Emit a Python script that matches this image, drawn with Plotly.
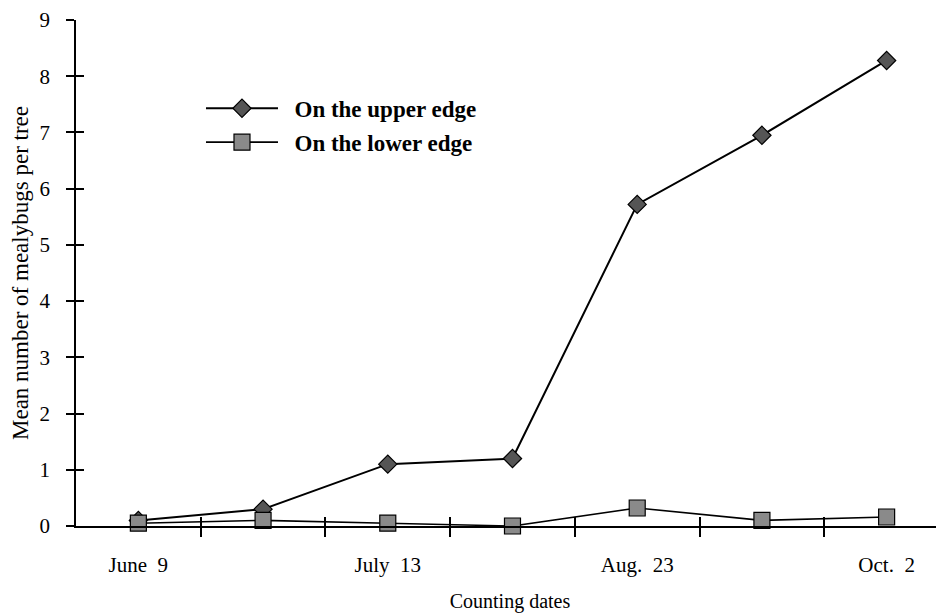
import plotly.graph_objects as go

dates_idx = [0, 1, 2, 3, 4, 5, 6]
tick_labels = ["June  9", "", "July  13", "", "Aug.  23", "", "Oct.  2"]
upper_edge = [0.10, 0.30, 1.10, 1.20, 5.72, 6.95, 8.28]
lower_edge = [0.05, 0.10, 0.05, 0.00, 0.32, 0.10, 0.16]
y_ticks = [0, 1, 2, 3, 4, 5, 6, 7, 8, 9]
between_ticks = [0.5, 1.5, 2.5, 3.5, 4.5, 5.5]
legend_names = ["\u00a0\u00a0On the upper edge", "\u00a0\u00a0On the lower edge"]

FONT = "Liberation Serif"

fig = go.Figure()
fig.add_trace(go.Scatter(
    x=dates_idx, y=upper_edge, mode="lines+markers", name=legend_names[0],
    legendgroup="u",
    line=dict(color="black", width=2),
    marker=dict(symbol="diamond", size=14, color="#555555",
                line=dict(color="black", width=1.2)),
    cliponaxis=False))
fig.add_trace(go.Scatter(
    x=dates_idx, y=lower_edge, mode="lines+markers", name=legend_names[1],
    legendgroup="l",
    line=dict(color="black", width=1.6),
    marker=dict(symbol="square", size=16, color="#8a8a8a",
                line=dict(color="black", width=1.2)),
    cliponaxis=False))
# helper trace so that the inner-tick axes are drawn
fig.add_trace(go.Scatter(x=[None], y=[None], xaxis="x2", yaxis="y2",
                         showlegend=False, hoverinfo="skip"))

xr = [-0.5, 6.46]
fig.update_layout(
    width=936, height=606,
    margin=dict(l=68, r=0, t=12, b=88, autoexpand=False),
    plot_bgcolor="white", paper_bgcolor="white",
    font=dict(family=FONT, size=21, color="black"),
    showlegend=True,
    legend=dict(x=0.144, y=0.868, xanchor="left", yanchor="top",
                font=dict(family=FONT, size=23, color="black", weight="bold"),
                bgcolor="rgba(0,0,0,0)", itemwidth=72, tracegroupgap=1),
    xaxis=dict(range=xr, tickmode="array", tickvals=dates_idx, ticktext=tick_labels,
               ticks="", showline=True, linecolor="black", linewidth=1.5,
               showgrid=False, zeroline=False, ticklabelstandoff=19,
               tickfont=dict(family=FONT, size=21),
               minor=dict(tickvals=between_ticks, ticks="outside", ticklen=9,
                          tickcolor="black", tickwidth=1.5, showgrid=False),
               title=dict(text="Counting dates", font=dict(family=FONT, size=20),
                          standoff=18)),
    xaxis2=dict(range=xr, overlaying="x", anchor="y2", tickmode="array",
                tickvals=between_ticks, ticks="inside", ticklen=9,
                tickcolor="black", tickwidth=1.5, showticklabels=False,
                showgrid=False, zeroline=False, showline=False),
    yaxis=dict(range=[0, 9], tickmode="array", tickvals=y_ticks, ticks="outside",
               ticklen=8, tickwidth=1.5, tickcolor="black", showline=True,
               linecolor="black", linewidth=1.5, showgrid=False, zeroline=False,
               ticklabelstandoff=12, ticklabeloverflow="allow",
               tickfont=dict(family=FONT, size=21),
               title=dict(text="Mean number of mealybugs per tree",
                          font=dict(family=FONT, size=23), standoff=8)),
    yaxis2=dict(range=[0, 9], overlaying="y", anchor="x2", side="left",
                tickmode="array", tickvals=y_ticks, ticks="inside", ticklen=8,
                tickwidth=1.5, tickcolor="black", showticklabels=False,
                showgrid=False, zeroline=False, showline=False),
)

fig.write_html("out.html")
